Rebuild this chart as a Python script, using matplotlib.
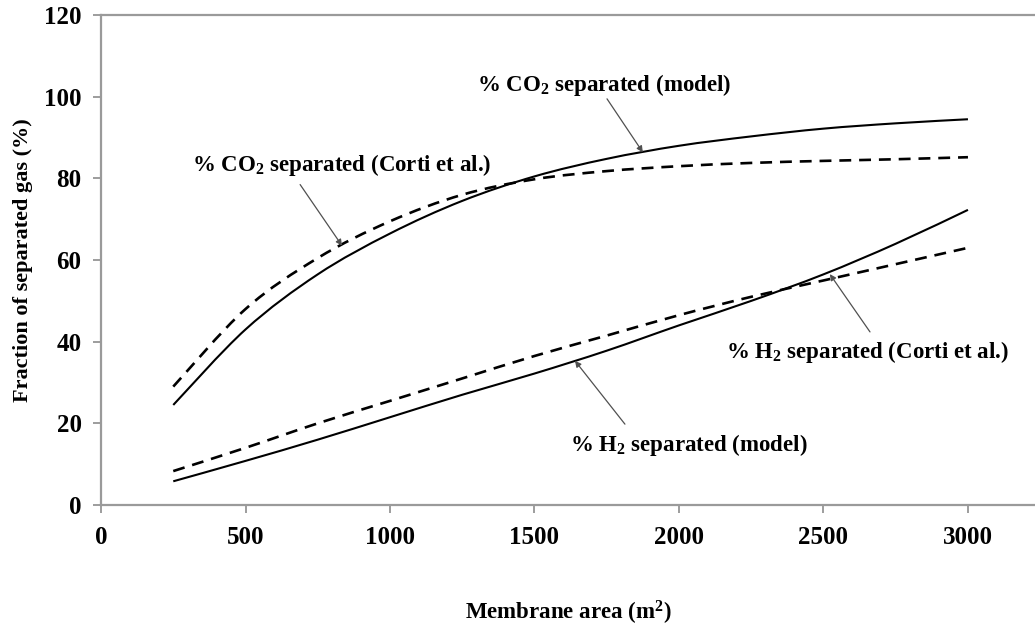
import matplotlib.pyplot as plt
import numpy as np
from matplotlib.path import Path
from matplotlib.patches import PathPatch

# membrane area (m2) and fraction of gas separated (%)
area = [250, 500, 750, 1000, 1250, 1500, 1750, 2000, 2250, 2500, 2750, 3000]
co2_model = [24.5, 43, 56.5, 66.5, 74.5, 80.5, 84.8, 88, 90.3, 92.2, 93.5, 94.5]
co2_corti = [29, 48, 60.5, 69.5, 76, 79.8, 81.8, 83, 83.8, 84.3, 84.7, 85.2]
h2_model = [5.8, 10.8, 16, 21.5, 27, 32.2, 37.8, 44, 50, 56.5, 64, 72.3]
h2_corti = [8.3, 14, 20, 25.5, 31, 36.5, 41.5, 46.5, 51, 55, 59, 63]

xticks = [0, 500, 1000, 1500, 2000, 2500, 3000]
yticks = [0, 20, 40, 60, 80, 100, 120]

plt.rcParams['font.family'] = ['Liberation Serif', 'DejaVu Serif']
plt.rcParams['font.weight'] = 'bold'
plt.rcParams['axes.labelweight'] = 'bold'
plt.rcParams['mathtext.fontset'] = 'custom'
plt.rcParams['mathtext.rm'] = 'Liberation Serif:bold'
plt.rcParams['mathtext.bf'] = 'Liberation Serif:bold'
plt.rcParams['mathtext.it'] = 'Liberation Serif:bold:italic'
plt.rcParams['mathtext.default'] = 'rm'


def smooth_curve(ax, x, y, **kw):
    """Draw a smoothed (Catmull-Rom style) curve through the points."""
    pts = np.column_stack([x, y]).astype(float)
    n = len(pts)
    verts = [pts[0]]
    codes = [Path.MOVETO]
    for i in range(n - 1):
        p0 = pts[max(i - 1, 0)]
        p1 = pts[i]
        p2 = pts[i + 1]
        p3 = pts[min(i + 2, n - 1)]
        verts += [p1 + (p2 - p0) / 6, p2 - (p3 - p1) / 6, p2]
        codes += [Path.CURVE4] * 3
    ax.add_patch(PathPatch(Path(verts, codes), fill=False, **kw))


fig = plt.figure(figsize=(10.35, 6.32), dpi=100)
ax = fig.add_axes([0.0976, 0.201, 0.9024, 0.775])

dashed = (0, (4.5, 3))
smooth_curve(ax, area, co2_model, color='black', lw=1.5)
smooth_curve(ax, area, co2_corti, color='black', lw=1.9, linestyle=dashed)
smooth_curve(ax, area, h2_model, color='black', lw=1.5)
smooth_curve(ax, area, h2_corti, color='black', lw=1.9, linestyle=dashed)

ax.set_xlim(0, 3232)
ax.set_ylim(0, 120)
ax.set_xticks(xticks)
ax.set_yticks(yticks)
ax.tick_params(axis='both', direction='out', length=6, width=1.2, color='#8c8c8c',
               labelsize=18)
ax.tick_params(axis='y', pad=8)
ax.tick_params(axis='x', pad=9)

for side in ['left', 'bottom', 'top']:
    ax.spines[side].set_color('#9a9a9a')
    ax.spines[side].set_linewidth(1.6)
ax.spines['right'].set_visible(False)

ax.set_xlabel('Membrane area (m$^{2}$)', fontsize=16.5, labelpad=36)
ax.set_ylabel('Fraction of separated gas (%)', fontsize=16, labelpad=8)

arrow = dict(arrowstyle='-|>', color='#505050', lw=0.9, mutation_scale=9,
             shrinkA=0, shrinkB=0)
label_kw = dict(fontsize=16.5, ha='center', va='center')


def callout(text, text_xy, start, tip):
    ax.text(*text_xy, text, **label_kw)
    ax.annotate('', xy=tip, xytext=start, arrowprops=arrow)


callout('% CO$_{2}$ separated (model)', (1740, 103), (1751, 99.5),
        (1875, np.interp(1875, area, co2_model)))
callout('% CO$_{2}$ separated (Corti et al.)', (834, 83.3), (689, 78.5),
        (834, np.interp(834, area, co2_corti)))
callout('% H$_{2}$ separated (Corti et al.)', (2651, 37.5), (2661, 42.4),
        (2522, np.interp(2522, area, h2_model) - 0.6))
callout('% H$_{2}$ separated (model)', (2035, 14.7), (1813, 19.8),
        (1640, np.interp(1640, area, h2_model)))

fig.savefig('out.png', dpi=100)
